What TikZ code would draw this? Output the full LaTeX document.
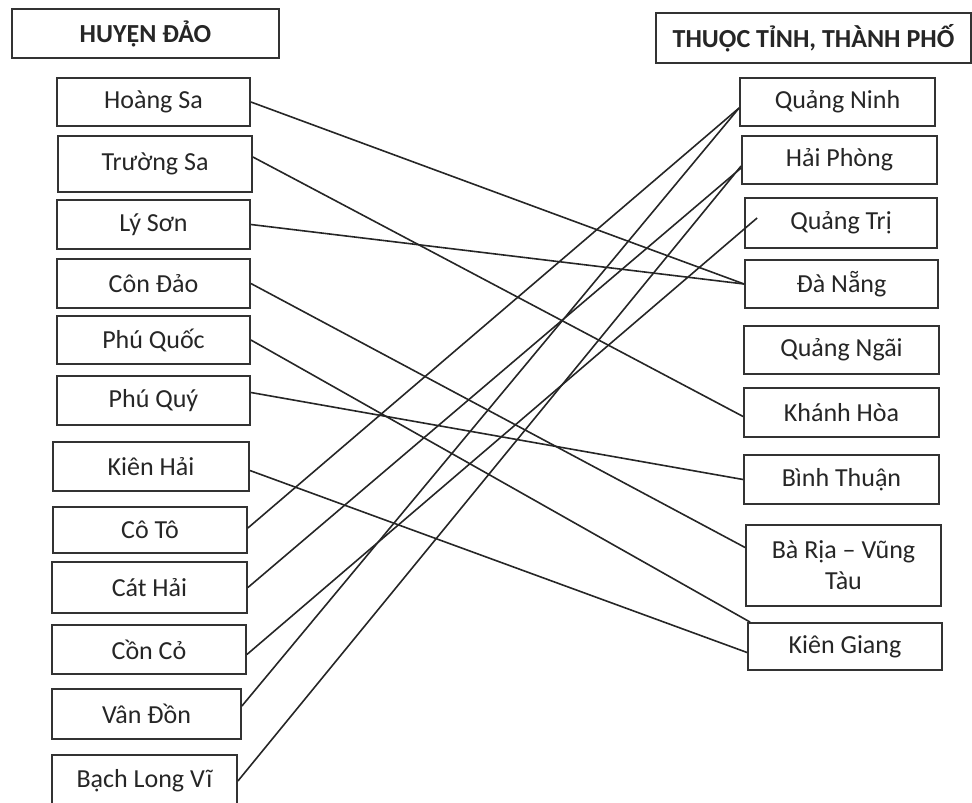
\documentclass[tikz,border=0pt]{standalone}
\usepackage{fontspec}
\setmainfont{Carlito}
\usepackage{tikz}
\usetikzlibrary{positioning}

\begin{document}
\begin{tikzpicture}[x=1pt, y=-1pt,
    box/.style={draw=black!80, line width=1.8pt, fill=white, inner sep=0pt,
        minimum height=48pt, text=black!85, font=\fontsize{26}{31}\selectfont},
    hdr/.style={box, font=\fontsize{26}{31}\selectfont\bfseries},
    link/.style={black!85, line width=1.6pt}]
\useasboundingbox (0,0) rectangle (972,803);

% Headers
\node[hdr, minimum width=267pt, minimum height=49pt] (hleft) at (145.5,33.5) {HUYỆN ĐẢO};
\node[hdr, minimum width=315pt, minimum height=50pt] (hright) at (813.5,38) {THUỘC TỈNH, THÀNH PHỐ};

% Islands (left column)
\node[box, minimum width=193pt] (hsa) at (153.5,102) {Hoàng Sa};
\node[box, minimum width=194pt, minimum height=56pt] (tsa) at (155,164) {Trường Sa};
\node[box, minimum width=193pt, minimum height=49pt] (lson) at (153.5,224.5) {Lý Sơn};
\node[box, minimum width=193pt, minimum height=49pt] (cdao) at (153.5,283.5) {Côn Đảo};
\node[box, minimum width=193pt] (pquoc) at (153.5,340) {Phú Quốc};
\node[box, minimum width=193pt, minimum height=49pt] (pquy) at (153.5,400.5) {Phú Quý};
\node[box, minimum width=196pt, minimum height=49pt] (khai) at (151,466.5) {Kiên Hải};
\node[box, minimum width=194pt, minimum height=46pt] (cto) at (150,530) {Cô Tô};
\node[box, minimum width=195pt, minimum height=51pt] (chai) at (149.5,587.5) {Cát Hải};
\node[box, minimum width=194pt, minimum height=49pt] (cco) at (149,649.5) {Cồn Cỏ};
\node[box, minimum width=189pt, minimum height=50pt] (vdon) at (146.5,714) {Vân Đồn};
\node[box, minimum width=185pt, minimum height=52pt] (blv) at (144.5,781) {Bạch Long Vĩ};

% Provinces (right column)
\node[box, minimum width=195pt] (qninh) at (837.5,102) {Quảng Ninh};
\node[box, minimum width=195pt] (hphong) at (839.5,160) {Hải Phòng};
\node[box, minimum width=192pt, minimum height=50pt] (qtri) at (841,223) {Quảng Trị};
\node[box, minimum width=193pt] (dnang) at (841.5,284) {Đà Nẵng};
\node[box, minimum width=195pt] (qngai) at (841.5,350) {Quảng Ngãi};
\node[box, minimum width=195pt, minimum height=49pt] (khoa) at (841.5,412.5) {Khánh Hòa};
\node[box, minimum width=195pt, minimum height=49pt] (bthuan) at (841.5,479.5) {Bình Thuận};
\node[box, minimum width=195pt, minimum height=81pt, align=center] (brvt) at (843.5,565.5) {Bà Rịa -- Vũng\\Tàu};
\node[box, minimum width=194pt, minimum height=47pt] (kgiang) at (845,646.5) {Kiên Giang};

% Matching lines
\draw[link] (hsa.east) -- (dnang.west);
\draw[link] ([yshift=7pt]tsa.east) -- ([yshift=-4pt]khoa.west);
\draw[link] (lson.east) -- (dnang.west);
\draw[link] (cdao.east) -- ([yshift=18pt]brvt.west);
\draw[link] (pquoc.east) -- ([xshift=3pt]kgiang.north west);
\draw[link] ([yshift=8pt]pquy.east) -- (bthuan.west);
\draw[link] ([yshift=-4pt]khai.east) -- ([yshift=-6pt]kgiang.west);
\draw[link] ([yshift=2pt]cto.east) -- ([yshift=-6pt]qninh.west);
\draw[link] (chai.east) -- ([yshift=-8pt]hphong.west);
\draw[link] ([yshift=-5pt]cco.east) -- ([xshift=13pt,yshift=5pt]qtri.west);
\draw[link] ([yshift=8pt]vdon.east) -- ([yshift=-6pt]qninh.west);
\draw[link] (blv.east) -- ([yshift=-6pt]hphong.west);
\end{tikzpicture}
\end{document}
